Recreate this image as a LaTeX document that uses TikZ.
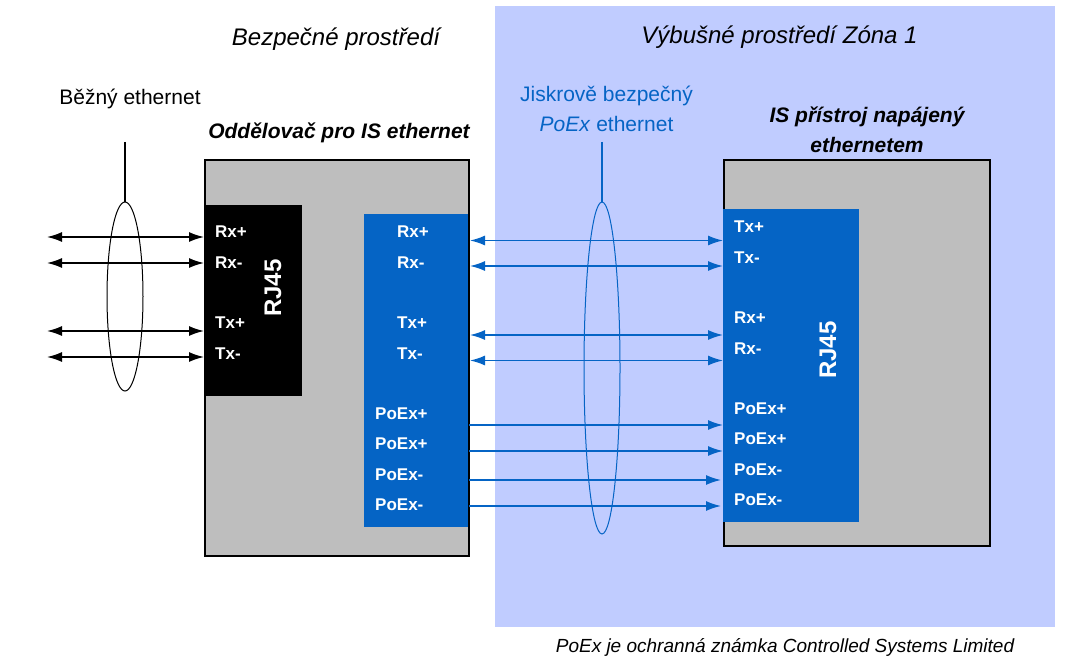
\documentclass[tikz,border=0pt]{standalone}
\usepackage{fontspec}
\setmainfont{Liberation Sans}
\usepackage{xcolor}
\usetikzlibrary{calc, positioning, arrows.meta, shapes.geometric}
\definecolor{poexBlue}{RGB}{5,100,197}
\definecolor{zoneBlue}{RGB}{192,204,255}
\definecolor{boxGray}{RGB}{190,190,190}
\tikzset{
    zone/.style={rectangle, fill=zoneBlue, draw=none, inner sep=0pt},
    device/.style={rectangle, draw=black, line width=2pt, fill=boxGray, inner sep=0pt},
    port/.style={rectangle, draw=none, inner sep=0pt},
    pin/.style={anchor=west, inner sep=0pt, text=white, font=\fontsize{17}{20}\selectfont\bfseries},
    rj/.style={rotate=90, inner sep=0pt, text=white, font=\fontsize{24}{28}\selectfont\bfseries},
    title/.style={inner sep=0pt, align=center, font=\fontsize{24}{28}\selectfont\itshape},
    caption/.style={inner sep=0pt, align=center, font=\fontsize{21}{30}\selectfont},
    bundle/.style={ellipse, draw, line width=1pt, inner sep=0pt, fill=none},
    arrow/.style={line width=1.5pt, -{Latex[length=15pt,width=10pt]}},
    both/.style={line width=1.5pt, {Latex[length=15pt,width=10pt]}-{Latex[length=15pt,width=10pt]}}
}
\begin{document}
\begin{tikzpicture}[x=1pt, y=-1pt]
    \useasboundingbox (0,0) rectangle (1070,663);

    % Zones
    \node[zone, minimum width=560pt, minimum height=621pt] (zone) at (775,316.5) {};
    \node[title] (safeTitle) at (336,39) {Bezpečné prostředí};
    \node[title] (zoneTitle) at (779.5,37) {Výbušné prostředí Zóna 1};

    % Isolator
    \node[device, minimum width=264pt, minimum height=396pt] (isolator) at (337,358) {};
    \node[port, fill=black, minimum width=97pt, minimum height=191pt] (rjBlack) at (253.5,300.5) {};
    \node[port, fill=poexBlue, minimum width=104pt, minimum height=313pt] (isoPort) at (416,370.5) {};
    \node[rj] (rjLeft) at (273,288) {RJ45};

    % Device
    \node[device, minimum width=266pt, minimum height=386pt] (device) at (857,353) {};
    \node[port, fill=poexBlue, minimum width=136pt, minimum height=313pt] (devPort) at (791,365.5) {};
    \node[rj] (rjRight) at (828,350) {RJ45};

    % Pin labels
    \foreach \name/\txt/\py in {a/Rx+/232, b/Rx-/263, c/Tx+/323, d/Tx-/354}
        \node[pin] (black\name) at (215,\py) {\txt};
    \foreach \name/\txt/\py in {a/Rx+/232, b/Rx-/263, c/Tx+/323, d/Tx-/354}
        \node[pin] (iso\name) at (397,\py) {\txt};
    \foreach \name/\py in {e/414, f/444}
        \node[pin] (iso\name) at (375,\py) {PoEx+};
    \foreach \name/\py in {g/475, h/505}
        \node[pin] (iso\name) at (375,\py) {PoEx-};
    \foreach \name/\txt/\py in {a/Tx+/227, b/Tx-/258, c/Rx+/318, d/Rx-/349}
        \node[pin] (dev\name) at (734,\py) {\txt};
    \foreach \name/\py in {e/409, f/439}
        \node[pin] (dev\name) at (734,\py) {PoEx+};
    \foreach \name/\py in {g/470, h/500}
        \node[pin] (dev\name) at (734,\py) {PoEx-};

    % Bundles
    \node[bundle, minimum width=36pt, minimum height=189pt] (ringLeft) at (125,296.5) {};
    \node[bundle, draw=poexBlue, minimum width=36pt, minimum height=332pt] (ringRight) at (602,368) {};
    \coordinate (tailLeft) at (125,142);
    \coordinate (tailRight) at (602,142);
    \draw[line width=1.5pt] (tailLeft) -- (ringLeft.north);
    \draw[line width=1.5pt, poexBlue] (tailRight) -- (ringRight.north);

    % Ethernet lines
    \foreach \name/\py in {a/237, b/263, c/331, d/357} {
        \coordinate (free\name) at (47,\py);
        \coordinate (jack\name) at (204,\py);
        \draw[both] (free\name) -- (jack\name);
    }
    \foreach \name/\py in {a/240.5, b/266, c/335, d/360.5} {
        \coordinate (out\name) at (470,\py);
        \coordinate (in\name) at (723,\py);
        \draw[both, poexBlue] (out\name) -- (in\name);
    }
    \foreach \name/\py/\ex in {e/425/723, f/451/723, g/480/721, h/506/721} {
        \coordinate (out\name) at (469,\py);
        \coordinate (in\name) at (\ex,\py);
        \draw[arrow, poexBlue] (out\name) -- (in\name);
    }

    % Captions
    \node[caption] (plainLabel) at (130,99) {Běžný ethernet};
    \node[caption, font=\fontsize{21}{30}\selectfont\bfseries\itshape] (isoLabel) at (339,133) {Oddělovač pro IS ethernet};
    \node[caption, text=poexBlue] (poexLabel) at (606.5,108.5) {Jiskrově bezpečný\\\textit{PoEx} ethernet};
    \node[caption, font=\fontsize{21}{30}\selectfont\bfseries\itshape] (devLabel) at (867,130) {IS přístroj napájený\\ethernetem};
    \node[inner sep=0pt, font=\fontsize{19}{22}\selectfont\itshape] (footer) at (785,647) {PoEx je ochranná známka Controlled Systems Limited};
\end{tikzpicture}
\end{document}
